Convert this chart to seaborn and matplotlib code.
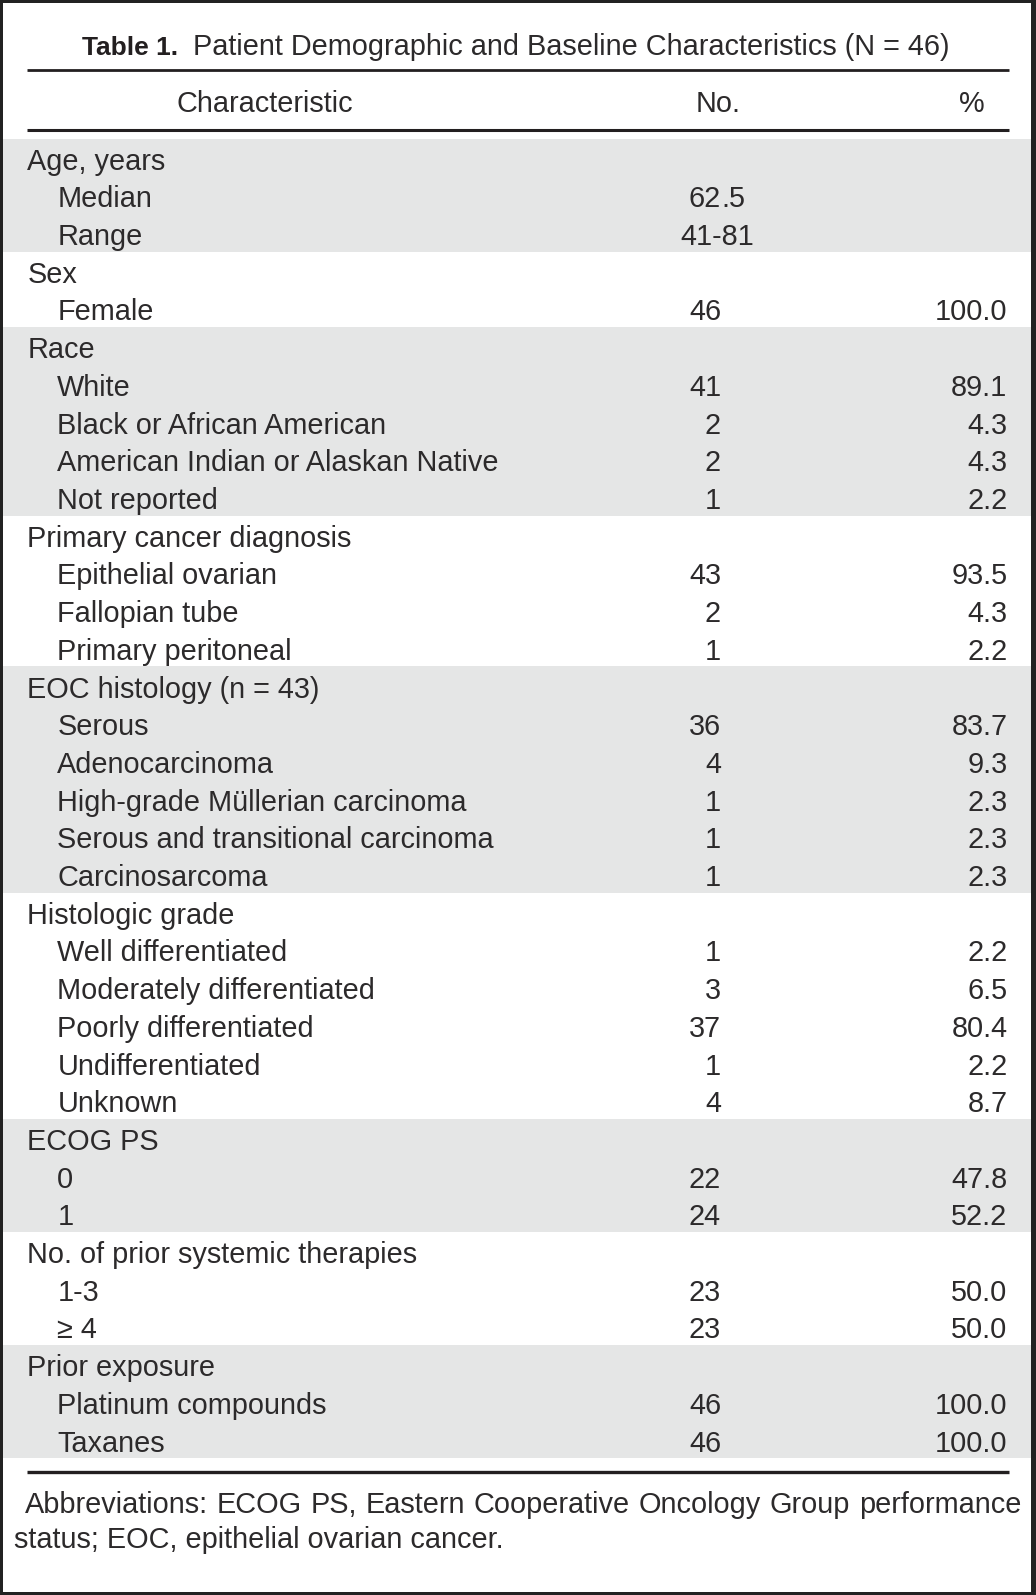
import matplotlib
matplotlib.use("Agg")
import matplotlib.pyplot as plt
import seaborn as sns

sns.set_theme(style="white")
plt.rcParams['font.family'] = ['Liberation Sans', 'DejaVu Sans']

# ---------------- data ----------------
title_bold = "Table 1."
title_text = "Patient Demographic and Baseline Characteristics (N = 46)"
col_headers = ["Characteristic", "No.", "%"]

labels = [
    "Age, years", "Median", "Range",
    "Sex", "Female",
    "Race", "White", "Black or African American",
    "American Indian or Alaskan Native", "Not reported",
    "Primary cancer diagnosis", "Epithelial ovarian", "Fallopian tube", "Primary peritoneal",
    "EOC histology (n = 43)", "Serous", "Adenocarcinoma", "High-grade Müllerian carcinoma",
    "Serous and transitional carcinoma", "Carcinosarcoma",
    "Histologic grade", "Well differentiated", "Moderately differentiated",
    "Poorly differentiated", "Undifferentiated", "Unknown",
    "ECOG PS", "0", "1",
    "No. of prior systemic therapies", "1-3", "≥ 4",
    "Prior exposure", "Platinum compounds", "Taxanes",
]
is_section = [
    1, 0, 0,
    1, 0,
    1, 0, 0, 0, 0,
    1, 0, 0, 0,
    1, 0, 0, 0, 0, 0,
    1, 0, 0, 0, 0, 0,
    1, 0, 0,
    1, 0, 0,
    1, 0, 0,
]
counts = [
    "", "62.5", "41-81",
    "", "46",
    "", "41", "2", "2", "1",
    "", "43", "2", "1",
    "", "36", "4", "1", "1", "1",
    "", "1", "3", "37", "1", "4",
    "", "22", "24",
    "", "23", "23",
    "", "46", "46",
]
percents = [
    "", "", "",
    "", "100.0",
    "", "89.1", "4.3", "4.3", "2.2",
    "", "93.5", "4.3", "2.2",
    "", "83.7", "9.3", "2.3", "2.3", "2.3",
    "", "2.2", "6.5", "80.4", "2.2", "8.7",
    "", "47.8", "52.2",
    "", "50.0", "50.0",
    "", "100.0", "100.0",
]
footnote_line1 = "Abbreviations: ECOG PS, Eastern Cooperative Oncology Group performance"
footnote_line2 = "status; EOC, epithelial ovarian cancer."

# ---------------- layout ----------------
W, H = 1036, 1595
fig = plt.figure(figsize=(W / 100, H / 100), dpi=100)
ax = fig.add_axes([0, 0, 1, 1])
ax.set_xlim(0, W)
ax.set_ylim(H, 0)
ax.axis("off")

RULE = "#231f20"
TXT = "#2c2a2b"
GRAY = "#e5e6e6"
FS = 20.8
LX, RX = 26.7, 1008.7
row_top0 = 138.5
row_h = (1458.0 - row_top0) / len(labels)

# shaded section bands
sec_idx = -1
for i, lab in enumerate(labels):
    if is_section[i]:
        sec_idx += 1
    if sec_idx % 2 == 0:
        y0 = row_top0 + i * row_h
        ax.axhspan(y0, y0 + row_h, xmin=3 / W, xmax=1031 / W, color=GRAY, lw=0, zorder=0)

# rules
ax.hlines(70.3, LX, RX, color=RULE, lw=2.0, capstyle="butt")
ax.hlines(130.2, LX, RX, color=RULE, lw=2.2, capstyle="butt")
ax.hlines(1471.7, LX, RX, color=RULE, lw=2.4, capstyle="butt")

# title
ax.text(82.0, 55, title_bold, fontsize=19, fontweight="bold", color=RULE, va="baseline",
        ha="left")
ax.text(193.3, 55, title_text, fontsize=FS, color=TXT, va="baseline", ha="left")

# column headers
ax.text(264.5, 112.3, col_headers[0], fontsize=FS, color=TXT, va="baseline", ha="center")
ax.text(718.5, 112.3, col_headers[1], fontsize=FS, color=TXT, va="baseline", ha="center")
ax.text(972.0, 112.3, col_headers[2], fontsize=FS, color=TXT, va="baseline", ha="center")

# body rows
NO_X = 721.0
for i, lab in enumerate(labels):
    base = row_top0 + i * row_h + 31.2
    x = 27.3 if is_section[i] else 57.3
    ax.text(x, base, lab, fontsize=FS, color=TXT, va="baseline", ha="left")
    c = counts[i]
    if c:
        if "-" in c:
            ax.text(717.0, base, c, fontsize=FS, color=TXT, va="baseline", ha="center")
        elif "." in c:
            ip, fp = c.split(".")
            ax.text(NO_X, base, ip, fontsize=FS, color=TXT, va="baseline", ha="right")
            ax.text(NO_X, base, "." + fp, fontsize=FS, color=TXT, va="baseline", ha="left")
        else:
            ax.text(NO_X, base, c, fontsize=FS, color=TXT, va="baseline", ha="right")
    p = percents[i]
    if p:
        ax.text(1007.5, base, p, fontsize=FS, color=TXT, va="baseline", ha="right")

# footnote, first line justified
renderer = fig.canvas.get_renderer()
words = footnote_line1.split(" ")
arts = [ax.text(0, 1513.3, w, fontsize=FS, color=TXT, va="baseline", ha="left") for w in words]
widths = [a.get_window_extent(renderer).width for a in arts]
fx0, fx1 = 25.0, 1021.0
gap = (fx1 - fx0 - sum(widths)) / (len(words) - 1)
xcur = fx0
for a, w in zip(arts, widths):
    a.set_x(xcur)
    xcur += w + gap
ax.text(14.0, 1548.3, footnote_line2, fontsize=FS, color=TXT, va="baseline", ha="left")

# outer frame
FR = "#222222"
ax.axhspan(0, 3, color=FR, lw=0)
ax.axhspan(H - 3.5, H, color=FR, lw=0)
ax.axvspan(0, 3, color=FR, lw=0)
ax.axvspan(1031, W, color=FR, lw=0)

fig.savefig("out.png", dpi=100)
